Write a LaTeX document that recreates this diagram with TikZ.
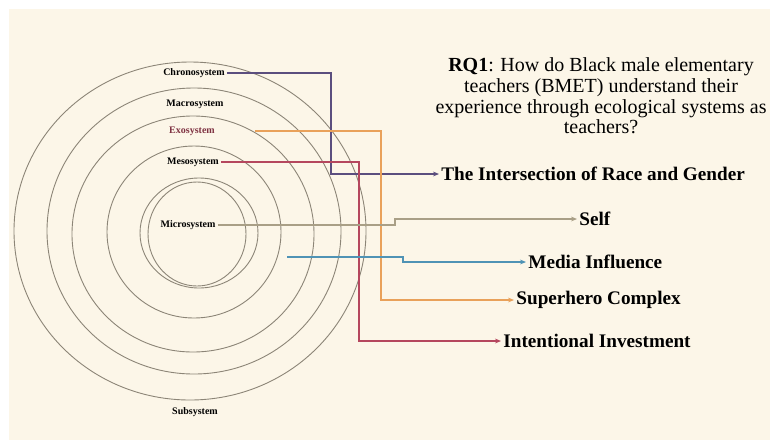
\documentclass[tikz,border=0pt]{standalone}
\usepackage{fontspec}
\setmainfont{LiberationSerif}[Extension=.ttf, UprightFont=*-Regular, BoldFont=*-Bold, ItalicFont=*-Italic, BoldItalicFont=*-BoldItalic]
\usepackage{tikz}
\usetikzlibrary{arrows.meta,positioning}

\definecolor{cream}{HTML}{FCF6E8}
\definecolor{ringgray}{HTML}{8C8577}
\definecolor{chronocol}{HTML}{5B4E7E}
\definecolor{exocol}{HTML}{E9A15A}
\definecolor{mesocol}{HTML}{B5475E}
\definecolor{microcol}{HTML}{A99F86}
\definecolor{mediacol}{HTML}{4F93B5}

\begin{document}
\begin{tikzpicture}[
              x=0.5pt, y=-0.5pt,
              ring/.style={draw=ringgray, line width=0.45pt},
              syslabel/.style={font=\fontsize{5}{6}\selectfont\bfseries, inner sep=1pt},
              theme/.style={font=\fontsize{9.6}{11}\selectfont\bfseries, inner sep=1pt, anchor=west},
              link/.style={line width=0.7pt, -{Stealth[length=3pt,width=2.4pt]}}
            ]

            % page and background
            \useasboundingbox (0,0) rectangle (770,440);
            \fill[white] (0,0) rectangle (770,440);
            \fill[cream] (9,9) rectangle (770,440);

            % nested systems
            \draw[ring] (190,231) ellipse [x radius=176, y radius=169];
            \draw[ring] (194,231) ellipse [x radius=147, y radius=143];
            \draw[ring] (193,234) ellipse [x radius=121, y radius=118];
            \draw[ring] (194,232) ellipse [x radius=87, y radius=86];
            \draw[ring] (199,233) ellipse [x radius=59, y radius=55];
            \draw[ring] (197,234) ellipse [x radius=49, y radius=52];

            % system names
            \node[syslabel] (chrono) at (194,73) {Chronosystem};
            \node[syslabel] (macro) at (195,104) {Macrosystem};
            \node[syslabel, text=mesocol!70!black] (exo) at (192,131) {Exosystem};
            \node[syslabel] (meso) at (193,162) {Mesosystem};
            \node[syslabel] (micro) at (188,225) {Microsystem};
            \node[syslabel] (sub) at (195,412) {Subsystem};

            % research question
            \node[font=\fontsize{10}{10.3}\selectfont, align=center] (rq) at (601,96)
              {\textbf{RQ1}: How do Black male elementary\\
               teachers (BMET) understand their\\
               experience through ecological systems as\\
               teachers?};

            % themes
            \node[theme] (race) at (439,174) {The Intersection of Race and Gender};
            \node[theme] (self) at (577,219) {Self};
            \node[theme] (media) at (526,262) {Media Influence};
            \node[theme] (hero) at (514,300) {Superhero Complex};
            \node[theme] (invest) at (501,341) {Intentional Investment};

            % turning points
            \coordinate (cturn) at (331,0);
            \coordinate (eturn) at (381,0);
            \coordinate (mturn) at (359,0);
            \coordinate (sstep) at (395,219);
            \coordinate (mstart) at (287,257);
            \coordinate (dstep) at (403,262);

            % connectors
            \draw[link, chronocol] (chrono.east) -| (cturn |- race.west) -- (race.west);
            \draw[link, exocol] ([xshift=19pt]exo.east) -| (eturn |- hero.west) -- (hero.west);
            \draw[link, mesocol] (meso.east) -| (mturn |- invest.west) -- (invest.west);
            \draw[link, microcol] (micro.east) -| (sstep) -- (self.west);
            \draw[link, mediacol] (mstart) -| (dstep) -- (media.west);

            \end{tikzpicture}
\end{document}
